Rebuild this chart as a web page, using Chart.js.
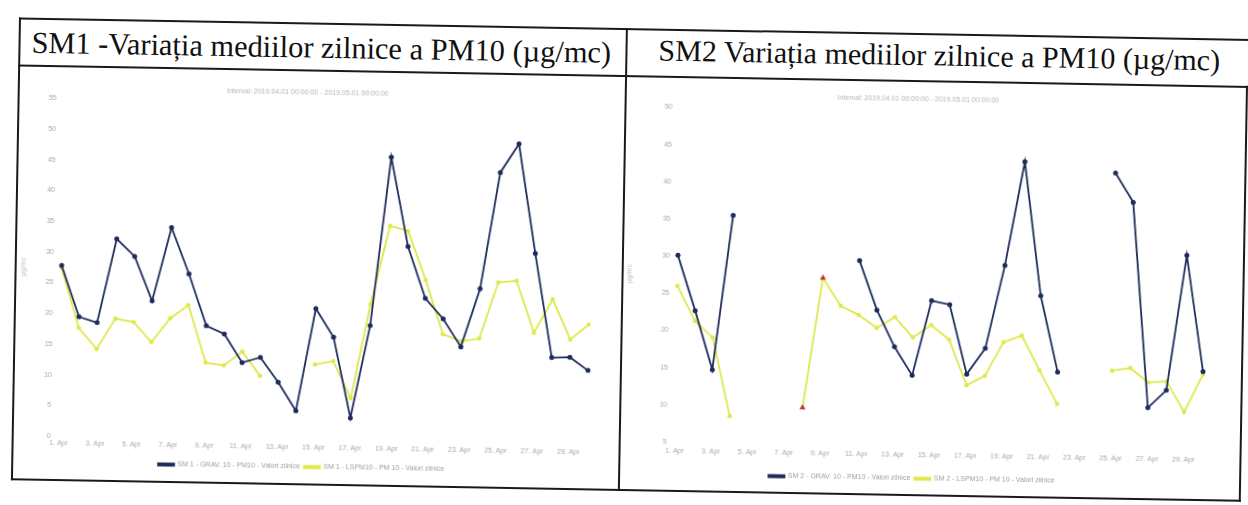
<!DOCTYPE html>
<html><head><meta charset="utf-8">
<script src="https://cdn.jsdelivr.net/npm/chart.js@4.4.0/dist/chart.umd.min.js"></script>
<style>
html,body{margin:0;padding:0;background:#fff;width:1248px;height:505px;overflow:hidden;}
#page{position:absolute;left:0;top:0;width:1248px;height:505px;transform:rotate(1deg);transform-origin:624px 252px;}
.ln{position:absolute;background:#1a1a1a;}
.hdr{position:absolute;font-family:"Liberation Serif","Times New Roman",serif;font-size:30px;color:#111;white-space:nowrap;line-height:34px;}
.box{position:absolute;}
</style></head>
<body><div id="page">
<div class="ln" style="left:15px;top:28px;width:1232px;height:2px"></div>
<div class="ln" style="left:15px;top:75px;width:1232px;height:2px"></div>
<div class="ln" style="left:15px;top:489px;width:1230px;height:2px"></div>
<div class="ln" style="left:15px;top:28px;width:2px;height:463px"></div>
<div class="ln" style="left:622px;top:28px;width:2px;height:463px"></div>
<div class="ln" style="left:1243px;top:75px;width:2px;height:416px"></div>
<div class="hdr" style="left:28px;top:36px;font-size:30.4px">SM1 -Variația mediilor zilnice a PM10 (µg/mc)</div>
<div class="hdr" style="left:655px;top:33px">SM2 Variația mediilor zilnice a PM10 (µg/mc)</div>
<div class="box" style="left:20px;top:85px;width:590px;height:405px"><canvas id="c1" width="590" height="405"></canvas></div>
<div class="box" style="left:626px;top:85px;width:615px;height:405px"><canvas id="c2" width="615" height="405"></canvas></div>
</div>
<script>
const days = ['1. Apr','2. Apr','3. Apr','4. Apr','5. Apr','6. Apr','7. Apr','8. Apr','9. Apr','10. Apr',
  '11. Apr','12. Apr','13. Apr','14. Apr','15. Apr','16. Apr','17. Apr','18. Apr','19. Apr','20. Apr',
  '21. Apr','22. Apr','23. Apr','24. Apr','25. Apr','26. Apr','27. Apr','28. Apr','29. Apr','30. Apr'];

const sm1Grav = [27.8,19.5,18.6,32.3,29.5,22.3,34.3,26.8,18.4,17.1,12.5,13.4,9.4,4.8,21.5,16.9,3.8,18.9,46.4,31.9,23.5,20.2,15.7,25.2,44.2,48.9,31.1,14.2,14.3,12.2];
const sm1Lspm = [27.4,17.7,14.3,19.3,18.8,15.6,19.5,21.7,12.4,12.0,14.3,10.4,null,null,12.4,13.0,7.0,22.4,35.2,34.4,26.5,17.7,16.6,17.1,26.3,26.6,18.2,23.7,17.2,19.7];

const sm2Grav = [30.1,22.7,14.8,35.6,null,null,null,null,null,null,29.8,23.2,18.3,14.5,24.6,24.1,14.8,18.3,29.5,43.5,25.5,15.3,null,null,42.2,38.3,10.7,13.1,31.3,15.7];
const sm2Lspm = [26.0,21.3,19.1,8.6,null,null,null,9.9,27.4,23.7,22.5,20.8,22.3,19.6,21.3,19.4,13.3,14.6,19.2,20.1,15.5,11.0,null,null,15.6,16.0,14.1,14.3,10.2,15.3];
const sm2Flagged = ['8. Apr','9. Apr'];

const yTicks1 = {min:0, max:55, step:5};
const yTicks2 = {min:5, max:50, step:5};
const intervalText = 'Interval: 2019.04.01 00:00:00 - 2019.05.01 00:00:00';
const names1 = ['SM 1 - GRAV. 10 - PM10 - Valori zilnice','SM 1 - LSPM10 - PM 10 - Valori zilnice'];
const names2 = ['SM 2 - GRAV. 10 - PM10 - Valori zilnice','SM 2 - LSPM10 - PM 10 - Valori zilnice'];

const BLUE = '#1e2c5c';
const YEL = '#dfe84c';
const RED = '#b8352a';
const FONT = '"Liberation Sans", Arial, sans-serif';

function build(id, grav, lspm, names, yt, o) {
  const isF = d => o.flag && sm2Flagged.includes(d);
  const ps = days.map(d => isF(d) ? 'triangle' : 'circle');
  const pc = days.map(d => isF(d) ? RED : YEL);
  const pr = days.map(d => isF(d) ? 3.5 : 2.2);
  new Chart(document.getElementById(id), {
    type: 'line',
    data: {
      labels: days,
      datasets: [
        {label: names[0], data: grav, borderColor: BLUE, backgroundColor: BLUE, borderWidth: 1.8,
         pointRadius: 2.5, pointBackgroundColor: BLUE, pointBorderWidth: 0, tension: 0},
        {label: names[1], data: lspm, borderColor: YEL, backgroundColor: YEL, borderWidth: 1.8,
         pointRadius: pr, pointStyle: ps, pointBackgroundColor: pc, pointBorderColor: pc, pointBorderWidth: 0, tension: 0}
      ]
    },
    options: {
      responsive: false, animation: false,
      layout: {padding: {left: 0, right: o.padR, top: 0, bottom: o.padB}},
      plugins: {
        title: {display: true, text: intervalText, color: '#b5b5b5', font: {family: FONT, size: 7, weight: 'normal'},
                padding: {top: o.tT, bottom: o.tB}},
        legend: {position: 'bottom', labels: {color: '#a0a0a0', font: {family: FONT, size: 7}, boxWidth: 16, boxHeight: 2, padding: o.lP}},
        tooltip: {enabled: false}
      },
      scales: {
        x: {grid: {display: false, drawTicks: false, tickLength: 0}, border: {display: false},
            ticks: {autoSkip: false, maxRotation: 0, minRotation: 0, color: '#a8a8a8', font: {family: FONT, size: 7}, padding: o.xP,
                    callback: (v, i) => i % 2 === 0 ? days[i] : ''},
            afterFit: s => { s.height = o.xH; }},
        y: {min: yt.min, max: yt.max, grid: {display: false, drawTicks: false, tickLength: 0}, border: {display: false},
            ticks: {stepSize: yt.step, color: '#a8a8a8', font: {family: FONT, size: 7}, padding: 8},
            title: {display: true, text: 'µg/mc', color: '#c0c0c0', font: {family: FONT, size: 7}, padding: 0},
            afterFit: s => { s.width = o.yW; }}
      }
    }
  });
}
build('c1', sm1Grav, sm1Lspm, names1, yTicks1, {padR: 20, padB: 4, tT: 9, tB: 6, lP: 4, xH: 19, xP: 3, yW: 42, flag: false});
build('c2', sm2Grav, sm2Lspm, names2, yTicks2, {padR: 36, padB: 3, tT: 5, tB: 8, lP: 4, xH: 25, xP: 5, yW: 52, flag: true});
</script>
</body></html>
